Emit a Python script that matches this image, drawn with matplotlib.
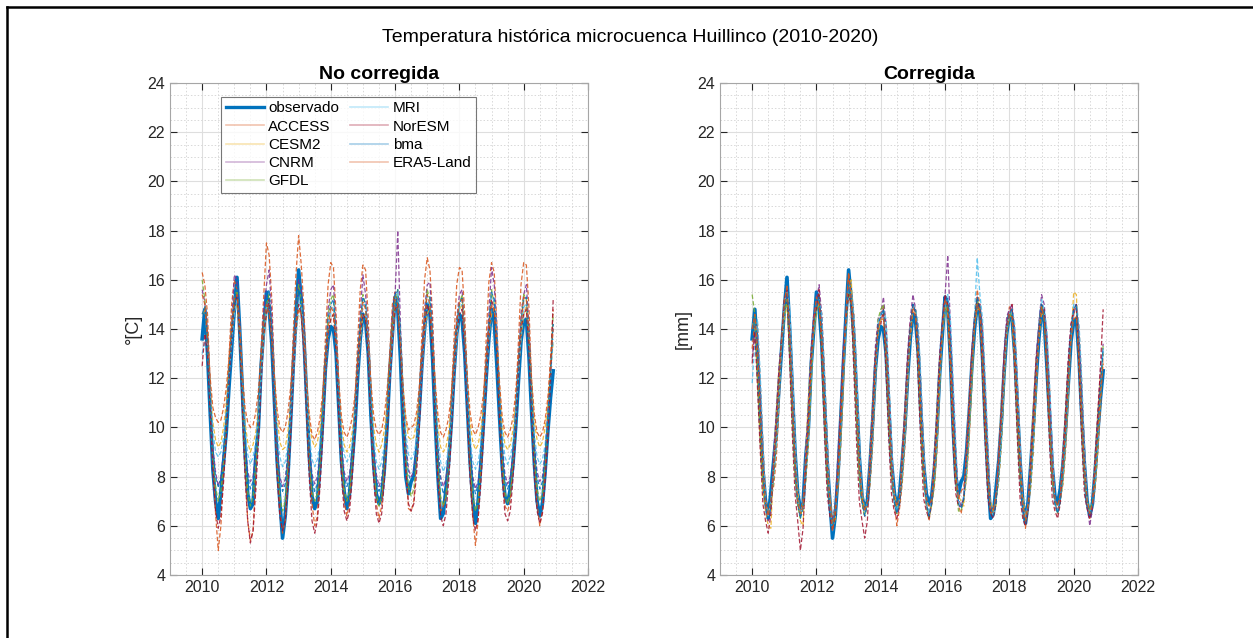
import matplotlib
matplotlib.use('Agg')
import matplotlib.pyplot as plt
from matplotlib.lines import Line2D
from matplotlib.ticker import MultipleLocator
import numpy as np

plt.rcParams['font.family'] = ['Liberation Sans', 'DejaVu Sans']

years = list(range(2010, 2021))

# observed monthly temperature (Jan..Dec, one row per year)
observado = [
    [13.6, 14.8, 13.0, 10.6, 8.3, 7.0, 6.3, 7.4, 8.6, 9.8, 11.6, 13.2],
    [14.8, 16.1, 14.0, 11.5, 9.0, 7.3, 6.7, 6.9, 8.8, 10.0, 12.5, 14.0],
    [15.5, 14.8, 13.4, 11.0, 8.6, 7.0, 5.5, 6.4, 8.0, 10.2, 12.5, 14.5],
    [16.4, 15.2, 13.6, 11.2, 8.8, 7.2, 6.7, 7.0, 8.5, 10.3, 12.4, 13.6],
    [14.1, 14.0, 13.0, 10.8, 8.6, 7.4, 6.7, 7.3, 8.6, 10.0, 12.0, 13.6],
    [14.6, 14.3, 13.0, 10.5, 8.5, 7.3, 6.9, 7.2, 8.3, 10.0, 12.2, 13.8],
    [15.3, 14.8, 12.8, 10.0, 8.0, 7.3, 7.8, 8.0, 9.0, 10.6, 12.5, 14.0],
    [15.0, 14.6, 12.8, 10.2, 8.0, 6.3, 6.5, 7.5, 8.6, 10.2, 12.2, 13.8],
    [14.6, 14.4, 13.0, 10.8, 8.6, 7.0, 6.1, 7.0, 8.5, 10.2, 12.0, 13.6],
    [14.8, 14.3, 12.5, 10.4, 8.4, 7.2, 6.9, 7.5, 8.5, 10.0, 11.8, 13.5],
    [14.3, 14.4, 12.8, 10.5, 8.5, 7.0, 6.4, 6.9, 8.2, 9.8, 11.2, 12.3],
]

# ---- raw model output ----
access_raw = [
    [16.3, 15.8, 14.6, 11.8, 8.9, 6.5, 5.0, 6.0, 8.2, 10.4, 12.8, 15.0],
    [16.0, 15.6, 14.2, 11.5, 8.6, 6.2, 5.4, 5.8, 8.0, 10.6, 13.2, 15.4],
    [17.5, 17.0, 15.2, 12.0, 9.0, 6.6, 5.7, 6.2, 8.4, 11.0, 13.8, 16.2],
    [17.8, 16.6, 14.8, 11.8, 8.8, 6.9, 6.0, 6.4, 8.6, 11.2, 13.6, 15.8],
    [16.7, 16.5, 14.6, 11.6, 8.9, 7.0, 6.4, 6.9, 8.8, 11.0, 13.4, 15.6],
    [16.6, 16.4, 14.4, 11.4, 8.8, 6.9, 6.3, 6.8, 8.6, 10.8, 13.0, 15.0],
    [15.5, 15.2, 13.8, 11.0, 8.6, 6.7, 6.6, 7.0, 8.8, 11.2, 13.8, 16.0],
    [16.9, 16.4, 14.5, 11.4, 8.6, 6.6, 6.8, 7.2, 9.0, 11.2, 13.6, 15.8],
    [16.5, 16.4, 14.6, 11.6, 8.5, 6.4, 5.2, 6.2, 8.4, 11.0, 13.6, 15.9],
    [16.7, 16.3, 14.2, 11.2, 8.6, 6.8, 6.6, 7.0, 8.7, 11.0, 13.4, 15.8],
    [16.7, 16.6, 14.8, 11.6, 8.8, 6.9, 6.0, 6.6, 8.4, 10.6, 12.8, 14.8],
]
cesm2_raw = [
    [14.6, 14.8, 13.6, 11.6, 10.2, 9.5, 9.2, 9.4, 10.0, 11.0, 12.4, 13.8],
    [14.8, 15.0, 13.8, 11.8, 10.2, 9.4, 9.0, 9.3, 9.8, 10.8, 12.2, 13.6],
    [14.6, 15.2, 14.0, 12.0, 10.4, 9.4, 9.1, 9.2, 9.8, 10.9, 12.4, 13.8],
    [14.7, 15.0, 13.8, 11.8, 10.2, 9.5, 9.2, 9.4, 10.0, 11.0, 12.4, 13.8],
    [14.4, 14.6, 13.4, 11.6, 10.1, 9.3, 9.0, 9.2, 9.8, 10.8, 12.2, 13.6],
    [14.5, 14.6, 13.5, 11.6, 10.0, 9.3, 9.0, 9.3, 9.9, 10.9, 12.3, 13.7],
    [14.8, 15.0, 13.6, 11.7, 10.3, 9.6, 9.5, 9.6, 10.2, 11.1, 12.5, 13.9],
    [14.6, 14.9, 13.6, 11.6, 10.0, 9.2, 9.0, 9.2, 9.8, 10.8, 12.2, 13.6],
    [14.8, 15.0, 13.7, 11.8, 10.2, 9.4, 9.1, 9.3, 9.9, 10.9, 12.3, 13.7],
    [14.6, 14.8, 13.5, 11.6, 10.1, 9.3, 9.1, 9.3, 9.9, 10.9, 12.2, 13.6],
    [14.6, 14.9, 13.6, 11.7, 10.2, 9.5, 9.2, 9.4, 10.0, 10.9, 12.2, 13.5],
]
cnrm_raw = [
    [15.6, 15.1, 13.6, 11.2, 9.2, 8.2, 7.6, 8.0, 9.0, 10.4, 12.2, 14.2],
    [16.2, 16.0, 14.2, 11.6, 9.4, 8.2, 7.8, 8.0, 9.0, 10.4, 12.6, 14.8],
    [15.8, 16.4, 14.6, 11.8, 9.4, 8.0, 7.6, 7.9, 8.9, 10.6, 12.8, 14.6],
    [16.0, 15.6, 14.0, 11.4, 9.2, 8.1, 7.7, 8.0, 9.0, 10.6, 12.8, 14.8],
    [15.6, 15.8, 14.0, 11.4, 9.3, 8.2, 7.8, 8.1, 9.1, 10.6, 12.6, 14.6],
    [16.2, 15.4, 13.8, 11.2, 9.2, 8.1, 7.6, 7.9, 8.9, 10.5, 12.6, 14.6],
    [15.4, 18.0, 14.2, 11.4, 9.4, 8.3, 8.0, 8.2, 9.2, 10.8, 12.8, 14.8],
    [15.8, 15.9, 14.0, 11.4, 9.2, 8.0, 7.6, 7.9, 8.9, 10.5, 12.6, 14.4],
    [15.4, 15.6, 13.9, 11.3, 9.2, 8.0, 7.5, 7.8, 8.8, 10.5, 12.5, 14.6],
    [16.5, 15.8, 14.0, 11.4, 9.3, 8.1, 7.7, 8.0, 9.0, 10.6, 12.6, 14.6],
    [15.4, 15.8, 14.0, 11.4, 9.3, 8.2, 7.8, 8.0, 9.0, 10.5, 12.4, 14.2],
]
gfdl_raw = [
    [16.0, 15.2, 13.4, 11.0, 8.8, 7.6, 7.0, 7.4, 8.6, 10.2, 12.2, 14.0],
    [15.2, 15.6, 13.8, 11.2, 8.8, 7.4, 6.8, 7.2, 8.5, 10.2, 12.4, 14.2],
    [15.0, 15.4, 13.6, 11.0, 8.6, 7.2, 6.6, 7.0, 8.4, 10.2, 12.4, 14.4],
    [15.8, 15.2, 13.4, 10.8, 8.6, 7.4, 7.0, 7.3, 8.6, 10.4, 12.6, 14.6],
    [15.2, 15.4, 13.6, 11.0, 8.8, 7.5, 7.0, 7.4, 8.7, 10.4, 12.4, 14.2],
    [15.4, 15.0, 13.2, 10.8, 8.6, 7.3, 6.8, 7.2, 8.5, 10.2, 12.4, 14.2],
    [15.2, 15.6, 13.6, 11.0, 8.8, 7.6, 7.2, 7.5, 8.8, 10.5, 12.6, 14.4],
    [15.6, 15.2, 13.4, 10.8, 8.6, 7.2, 6.8, 7.2, 8.5, 10.2, 12.4, 14.2],
    [15.0, 15.4, 13.6, 11.0, 8.6, 7.2, 6.6, 7.0, 8.4, 10.2, 12.2, 14.0],
    [15.6, 15.0, 13.2, 10.8, 8.6, 7.4, 6.9, 7.3, 8.6, 10.3, 12.3, 14.2],
    [15.4, 15.2, 13.4, 11.0, 8.8, 7.5, 7.0, 7.3, 8.6, 10.2, 12.2, 14.6],
]
mri_raw = [
    [13.0, 13.5, 13.4, 11.6, 9.9, 9.0, 8.8, 9.0, 9.6, 10.6, 12.0, 13.4],
    [14.6, 15.2, 14.0, 11.8, 9.9, 8.9, 8.5, 8.8, 9.4, 10.5, 12.0, 13.6],
    [14.9, 15.1, 13.8, 11.6, 9.8, 8.8, 8.4, 8.6, 9.3, 10.4, 12.0, 13.6],
    [15.0, 15.0, 13.6, 11.5, 9.7, 8.7, 8.4, 8.7, 9.3, 10.5, 12.1, 13.7],
    [14.8, 14.9, 13.6, 11.5, 9.8, 8.9, 8.6, 8.8, 9.4, 10.6, 12.1, 13.7],
    [15.0, 15.0, 13.6, 11.4, 9.6, 8.6, 8.3, 8.6, 9.3, 10.5, 12.0, 13.6],
    [15.2, 15.4, 13.8, 11.6, 9.8, 8.9, 8.7, 8.9, 9.5, 10.6, 12.2, 13.8],
    [15.0, 15.2, 13.8, 11.6, 9.7, 8.6, 8.2, 8.5, 9.2, 10.4, 12.0, 13.6],
    [14.8, 15.0, 13.6, 11.4, 9.6, 8.6, 8.3, 8.6, 9.3, 10.5, 12.0, 13.6],
    [15.0, 15.2, 13.8, 11.6, 9.8, 8.8, 8.5, 8.8, 9.4, 10.6, 12.1, 13.7],
    [14.9, 15.0, 13.7, 11.5, 9.7, 8.8, 8.5, 8.7, 9.3, 10.5, 12.0, 13.6],
]
noresm_raw = [
    [12.5, 13.8, 13.0, 10.6, 8.2, 6.6, 5.9, 6.4, 7.8, 9.6, 11.8, 13.6],
    [15.0, 15.4, 13.6, 10.8, 8.0, 6.2, 5.3, 5.8, 7.4, 9.4, 11.8, 13.8],
    [14.6, 15.2, 13.4, 10.6, 8.0, 6.4, 5.8, 6.2, 7.6, 9.6, 12.0, 14.0],
    [15.0, 14.6, 13.0, 10.4, 7.9, 6.2, 5.7, 6.2, 7.6, 9.6, 12.0, 13.8],
    [14.4, 14.6, 13.0, 10.4, 8.0, 6.6, 6.2, 6.6, 7.9, 9.8, 12.0, 13.8],
    [14.6, 14.4, 12.8, 10.2, 7.9, 6.5, 6.1, 6.5, 7.8, 9.6, 11.8, 13.6],
    [14.8, 15.0, 13.2, 10.5, 8.2, 6.9, 6.6, 6.9, 8.1, 9.9, 12.2, 14.0],
    [15.0, 14.6, 12.8, 10.2, 7.8, 6.4, 6.0, 6.5, 7.8, 9.7, 11.9, 13.8],
    [14.6, 14.8, 13.0, 10.4, 7.9, 6.3, 5.8, 6.3, 7.7, 9.6, 11.8, 13.7],
    [15.2, 14.8, 12.9, 10.3, 7.9, 6.5, 6.2, 6.6, 7.9, 9.8, 12.0, 14.0],
    [14.6, 14.8, 13.0, 10.4, 8.0, 6.6, 6.1, 6.5, 7.8, 9.6, 11.8, 15.2],
]
bma_raw = [
    [14.6, 14.9, 13.6, 11.3, 9.2, 8.0, 7.6, 7.9, 9.0, 10.4, 12.2, 14.0],
    [15.1, 15.6, 14.0, 11.5, 9.3, 8.0, 7.5, 7.8, 8.9, 10.4, 12.4, 14.2],
    [15.3, 15.6, 14.0, 11.4, 9.2, 7.9, 7.4, 7.7, 8.9, 10.5, 12.6, 14.4],
    [15.6, 15.3, 13.8, 11.3, 9.1, 7.9, 7.4, 7.7, 8.9, 10.5, 12.6, 14.4],
    [15.0, 15.2, 13.7, 11.3, 9.2, 8.0, 7.6, 7.9, 9.0, 10.5, 12.5, 14.3],
    [15.3, 15.0, 13.5, 11.1, 9.0, 7.9, 7.4, 7.7, 8.9, 10.4, 12.4, 14.2],
    [15.4, 15.6, 13.8, 11.3, 9.2, 8.1, 7.8, 8.0, 9.1, 10.6, 12.7, 14.5],
    [15.4, 15.3, 13.7, 11.2, 9.0, 7.8, 7.3, 7.6, 8.8, 10.4, 12.4, 14.2],
    [15.0, 15.3, 13.7, 11.3, 9.1, 7.8, 7.3, 7.7, 8.8, 10.4, 12.4, 14.2],
    [15.5, 15.2, 13.6, 11.2, 9.1, 7.9, 7.5, 7.8, 8.9, 10.5, 12.5, 14.3],
    [15.2, 15.3, 13.8, 11.3, 9.1, 8.0, 7.5, 7.8, 8.9, 10.4, 12.3, 14.2],
]
era5_raw = [
    [15.4, 15.0, 13.8, 12.0, 10.8, 10.4, 10.2, 10.3, 10.8, 11.6, 12.8, 14.2],
    [15.2, 15.4, 14.2, 12.2, 10.8, 10.2, 10.0, 10.1, 10.6, 11.5, 12.9, 14.4],
    [15.0, 14.6, 13.6, 12.0, 10.7, 10.0, 9.8, 10.0, 10.6, 11.6, 13.0, 14.3],
    [14.8, 14.6, 13.5, 11.8, 10.5, 9.7, 9.5, 9.8, 10.4, 11.4, 12.8, 14.0],
    [14.9, 14.7, 13.6, 11.9, 10.4, 9.8, 9.6, 9.9, 10.4, 11.3, 12.6, 14.0],
    [15.1, 14.8, 13.5, 11.8, 10.5, 9.9, 9.7, 9.9, 10.5, 11.5, 12.8, 14.2],
    [15.2, 15.0, 13.4, 11.6, 10.4, 9.9, 10.0, 10.1, 10.6, 11.6, 13.0, 14.5],
    [15.4, 15.0, 13.6, 11.8, 10.5, 9.8, 9.6, 9.9, 10.4, 11.4, 12.8, 14.3],
    [15.1, 15.2, 13.8, 12.0, 10.6, 9.9, 9.7, 10.0, 10.5, 11.4, 12.7, 14.2],
    [15.0, 14.8, 13.4, 11.8, 10.4, 9.8, 9.6, 9.9, 10.4, 11.4, 12.8, 14.1],
    [15.3, 15.2, 13.8, 11.9, 10.5, 9.8, 9.6, 9.8, 10.3, 11.2, 12.6, 14.0],
]

# ---- bias-corrected model output ----
access_cor = [
    [13.2, 14.4, 14.2, 11.9, 9.4, 7.2, 6.5, 7.1, 7.6, 8.7, 10.8, 13.4],
    [15.2, 15.6, 14.4, 12.2, 9.5, 7.0, 6.6, 7.1, 7.9, 9.3, 11.8, 14.4],
    [15.0, 15.3, 14.6, 12.3, 9.6, 7.2, 6.2, 6.8, 7.5, 9.1, 11.5, 14.6],
    [16.2, 15.4, 14.6, 12.0, 9.4, 7.0, 6.4, 6.9, 7.7, 9.3, 11.8, 14.0],
    [14.6, 14.9, 14.2, 11.9, 9.3, 7.0, 6.0, 6.7, 7.7, 9.2, 11.5, 14.0],
    [15.0, 14.8, 14.0, 11.7, 9.2, 6.9, 6.2, 6.9, 7.6, 9.1, 11.6, 14.2],
    [15.2, 15.0, 13.8, 11.4, 9.0, 6.8, 6.5, 7.2, 7.9, 9.5, 11.8, 14.3],
    [15.6, 15.0, 14.0, 11.6, 9.0, 6.8, 6.6, 7.2, 7.8, 9.3, 11.6, 14.0],
    [14.9, 14.8, 14.0, 11.8, 9.2, 6.8, 5.9, 6.8, 7.6, 9.2, 11.4, 13.9],
    [14.9, 14.6, 13.7, 11.6, 9.1, 6.8, 6.5, 7.1, 7.7, 9.1, 11.2, 13.8],
    [14.6, 14.9, 14.0, 11.8, 9.2, 6.9, 6.3, 6.9, 7.5, 9.0, 10.8, 13.0],
]
cesm2_cor = [
    [14.2, 14.2, 12.0, 9.4, 7.4, 6.6, 6.0, 5.9, 8.6, 10.6, 12.4, 13.4],
    [14.4, 15.0, 13.6, 10.8, 8.4, 7.5, 6.2, 6.0, 9.0, 11.2, 13.0, 13.8],
    [14.8, 15.0, 13.6, 10.6, 8.2, 7.2, 6.0, 6.2, 8.6, 10.8, 12.8, 14.0],
    [15.6, 16.0, 13.4, 10.6, 8.2, 7.4, 6.6, 6.8, 9.0, 11.0, 13.0, 13.8],
    [14.4, 14.6, 12.8, 10.2, 8.0, 7.4, 6.8, 6.9, 9.0, 10.8, 12.6, 13.6],
    [14.8, 14.8, 12.8, 10.0, 8.0, 7.2, 6.6, 6.8, 8.8, 10.8, 12.8, 13.8],
    [15.0, 14.6, 12.6, 9.8, 7.8, 7.2, 7.0, 6.8, 9.2, 11.2, 13.0, 14.2],
    [14.8, 14.8, 12.6, 9.8, 7.8, 7.0, 6.6, 6.8, 9.0, 11.0, 12.8, 13.8],
    [14.6, 14.4, 12.6, 10.0, 8.0, 7.2, 6.4, 6.6, 9.0, 11.0, 12.8, 13.6],
    [14.6, 14.6, 12.4, 9.8, 7.8, 7.0, 6.6, 7.0, 9.0, 10.8, 12.6, 13.6],
    [15.5, 15.4, 12.8, 10.0, 8.0, 7.0, 6.6, 6.8, 8.8, 10.6, 12.2, 12.6],
]
cnrm_cor = [
    [12.8, 13.8, 13.7, 11.4, 8.8, 6.8, 6.2, 6.9, 8.9, 10.5, 12.4, 13.6],
    [15.0, 15.4, 14.1, 11.6, 9.0, 6.9, 6.4, 6.9, 9.1, 10.8, 13.2, 14.6],
    [15.2, 15.8, 14.5, 11.8, 9.0, 6.8, 6.2, 6.8, 8.8, 10.8, 13.2, 14.6],
    [15.8, 15.2, 14.1, 11.6, 9.0, 7.0, 6.4, 6.9, 9.0, 10.9, 13.3, 14.4],
    [14.6, 15.3, 14.1, 11.6, 9.0, 7.0, 6.5, 7.0, 9.0, 10.8, 13.0, 14.4],
    [15.4, 14.8, 13.7, 11.4, 8.9, 6.9, 6.4, 7.0, 8.9, 10.7, 13.0, 14.3],
    [15.4, 17.0, 14.1, 11.5, 9.0, 7.1, 6.8, 7.2, 9.2, 11.0, 13.2, 14.5],
    [14.8, 15.0, 13.9, 11.4, 8.8, 6.8, 6.4, 7.0, 8.9, 10.7, 13.0, 14.5],
    [14.8, 15.0, 13.9, 11.5, 8.9, 6.8, 6.3, 6.9, 8.9, 10.7, 12.9, 14.2],
    [15.4, 15.0, 13.7, 11.4, 8.9, 6.9, 6.6, 7.1, 9.0, 10.7, 12.8, 14.2],
    [14.6, 15.0, 13.7, 11.4, 8.9, 6.9, 6.0, 6.7, 8.8, 10.6, 12.4, 13.4],
]
gfdl_cor = [
    [15.4, 14.6, 12.4, 10.0, 7.8, 6.9, 6.4, 7.0, 7.8, 9.3, 11.2, 13.6],
    [14.6, 15.2, 12.9, 10.3, 8.0, 6.8, 6.3, 6.9, 7.8, 9.4, 11.7, 14.0],
    [14.6, 15.4, 13.1, 10.3, 7.9, 6.8, 6.0, 6.7, 7.6, 9.4, 11.8, 14.4],
    [15.5, 15.0, 12.9, 10.2, 7.9, 6.9, 6.4, 6.9, 7.8, 9.6, 12.0, 14.4],
    [14.8, 15.0, 12.9, 10.3, 8.0, 7.0, 6.5, 7.0, 7.9, 9.6, 11.7, 14.0],
    [15.0, 14.7, 12.5, 10.0, 7.9, 6.8, 6.3, 6.9, 7.7, 9.4, 11.7, 14.0],
    [14.6, 15.0, 12.7, 10.1, 7.9, 6.6, 6.6, 7.1, 8.0, 9.7, 11.8, 14.2],
    [15.2, 14.8, 12.6, 10.0, 7.8, 6.7, 6.4, 7.0, 7.8, 9.4, 11.6, 14.0],
    [14.4, 14.8, 12.7, 10.2, 7.9, 6.8, 6.2, 6.8, 7.7, 9.4, 11.6, 14.0],
    [15.0, 14.6, 12.4, 10.0, 7.9, 7.0, 6.5, 7.0, 7.8, 9.4, 11.4, 14.0],
    [14.8, 14.8, 12.5, 10.2, 8.0, 7.0, 6.6, 7.0, 7.7, 9.3, 11.2, 13.4],
]
mri_cor = [
    [11.8, 13.4, 14.4, 12.2, 9.5, 7.0, 6.4, 7.0, 8.0, 9.3, 11.2, 13.4],
    [15.0, 15.6, 14.8, 12.4, 9.7, 7.0, 6.5, 6.9, 8.0, 9.5, 12.0, 14.2],
    [15.0, 15.2, 14.6, 12.2, 9.5, 6.9, 5.8, 6.6, 7.8, 9.5, 12.0, 14.4],
    [15.8, 15.4, 14.6, 12.2, 9.5, 7.0, 6.5, 7.0, 8.0, 9.7, 12.0, 14.2],
    [14.6, 14.8, 14.4, 12.1, 9.5, 7.0, 6.6, 7.1, 8.1, 9.6, 11.8, 14.0],
    [15.0, 14.8, 14.2, 11.9, 9.3, 7.0, 6.5, 7.0, 8.0, 9.5, 11.8, 14.0],
    [14.9, 15.4, 14.4, 12.0, 9.4, 7.0, 6.8, 7.2, 8.2, 9.9, 12.2, 14.6],
    [16.9, 15.4, 14.4, 12.0, 9.3, 6.7, 6.4, 7.0, 8.0, 9.5, 11.8, 14.0],
    [14.6, 14.8, 14.2, 12.0, 9.3, 6.8, 6.3, 6.9, 7.9, 9.5, 11.8, 14.0],
    [15.2, 14.8, 14.0, 11.8, 9.3, 6.9, 6.6, 7.1, 8.0, 9.5, 11.6, 13.9],
    [15.0, 15.0, 14.2, 12.0, 9.3, 6.9, 6.5, 6.9, 7.8, 9.4, 11.4, 13.2],
]
noresm_cor = [
    [12.6, 13.9, 11.6, 9.1, 6.9, 6.2, 5.7, 6.5, 8.4, 10.1, 12.1, 13.6],
    [15.2, 15.6, 12.6, 9.7, 7.3, 6.2, 5.0, 5.9, 8.2, 10.3, 12.7, 14.4],
    [14.8, 15.6, 12.8, 9.7, 7.3, 6.4, 5.8, 6.4, 8.4, 10.5, 12.9, 14.4],
    [15.4, 15.0, 12.2, 9.3, 7.0, 6.2, 5.5, 6.2, 8.3, 10.4, 12.9, 14.2],
    [14.2, 14.8, 12.2, 9.5, 7.3, 6.6, 6.3, 6.8, 8.6, 10.5, 12.8, 14.2],
    [15.0, 14.6, 11.9, 9.2, 7.1, 6.6, 6.3, 6.9, 8.6, 10.5, 12.8, 14.2],
    [15.4, 15.0, 12.2, 9.4, 7.3, 6.8, 6.8, 7.1, 9.0, 10.9, 13.1, 14.4],
    [15.3, 14.8, 12.0, 9.3, 7.1, 6.5, 6.3, 6.9, 8.7, 10.6, 12.9, 14.2],
    [14.6, 15.0, 12.2, 9.5, 7.1, 6.3, 6.0, 6.6, 8.5, 10.5, 12.7, 14.0],
    [15.0, 14.8, 12.0, 9.3, 7.1, 6.6, 6.3, 6.9, 8.7, 10.6, 12.7, 14.2],
    [14.8, 15.0, 12.2, 9.5, 7.3, 6.7, 6.3, 6.8, 8.6, 10.4, 12.5, 14.8],
]
bma_cor = [
    [13.8, 14.4, 13.0, 10.6, 8.4, 6.9, 6.3, 6.9, 8.3, 9.8, 11.7, 13.5],
    [14.9, 15.5, 13.8, 11.1, 8.6, 6.9, 6.3, 6.7, 8.4, 10.0, 12.4, 14.2],
    [15.0, 15.3, 13.8, 11.1, 8.6, 6.9, 5.9, 6.6, 8.1, 10.0, 12.4, 14.5],
    [15.8, 15.3, 13.6, 11.0, 8.6, 7.0, 6.4, 6.9, 8.4, 10.2, 12.5, 14.2],
    [14.5, 14.8, 13.4, 10.9, 8.6, 7.0, 6.5, 6.9, 8.4, 10.1, 12.2, 14.0],
    [15.0, 14.7, 13.2, 10.7, 8.4, 6.9, 6.4, 6.9, 8.3, 10.0, 12.3, 14.0],
    [15.1, 15.3, 13.3, 10.6, 8.4, 6.9, 6.7, 7.1, 8.6, 10.4, 12.5, 14.4],
    [15.3, 14.9, 13.2, 10.6, 8.3, 6.7, 6.4, 6.9, 8.4, 10.1, 12.3, 14.0],
    [14.6, 14.8, 13.2, 10.8, 8.4, 6.7, 6.1, 6.8, 8.3, 10.0, 12.1, 13.9],
    [15.0, 14.7, 13.0, 10.6, 8.4, 6.9, 6.5, 7.0, 8.4, 10.0, 12.0, 13.9],
    [14.8, 15.0, 13.2, 10.7, 8.4, 6.9, 6.4, 6.8, 8.2, 9.9, 11.7, 13.2],
]
era5_cor = [
    [14.0, 14.6, 13.2, 10.8, 8.5, 6.9, 6.4, 7.0, 8.3, 9.8, 11.7, 13.6],
    [15.0, 15.8, 13.9, 11.1, 8.7, 7.0, 6.5, 6.8, 8.5, 10.1, 12.5, 14.3],
    [15.3, 15.0, 13.6, 11.0, 8.6, 7.0, 5.8, 6.5, 8.1, 10.1, 12.5, 14.6],
    [16.3, 15.2, 13.6, 11.0, 8.6, 7.1, 6.6, 7.0, 8.5, 10.3, 12.5, 14.0],
    [14.4, 14.4, 13.2, 10.8, 8.6, 7.2, 6.8, 7.2, 8.6, 10.1, 12.1, 13.8],
    [14.8, 14.5, 13.0, 10.6, 8.5, 7.1, 6.8, 7.1, 8.4, 10.0, 12.2, 14.0],
    [15.2, 14.9, 12.9, 10.2, 8.1, 7.1, 7.4, 7.6, 8.8, 10.5, 12.5, 14.1],
    [15.0, 14.7, 12.9, 10.3, 8.1, 6.5, 6.6, 7.3, 8.6, 10.2, 12.2, 13.9],
    [14.6, 14.5, 13.0, 10.8, 8.6, 6.9, 6.2, 6.9, 8.4, 10.1, 12.0, 13.7],
    [14.9, 14.4, 12.6, 10.4, 8.4, 7.1, 6.8, 7.3, 8.5, 10.0, 11.9, 13.6],
    [14.4, 14.5, 12.9, 10.6, 8.5, 7.0, 6.5, 6.9, 8.2, 9.8, 11.4, 12.6],
]

model_names = ['ACCESS', 'CESM2', 'CNRM', 'GFDL', 'MRI', 'NorESM', 'bma', 'ERA5-Land']
model_colors = ['#D95319', '#EDB120', '#7E2F8E', '#77AC30', '#4DBEEE', '#A2142F', '#0072BD', '#D95319']
raw_series = [access_raw, cesm2_raw, cnrm_raw, gfdl_raw, mri_raw, noresm_raw, bma_raw, era5_raw]
cor_series = [access_cor, cesm2_cor, cnrm_cor, gfdl_cor, mri_cor, noresm_cor, bma_cor, era5_cor]

# monthly time axis as decimal years
t = np.array([y + m / 12.0 for y in years for m in range(12)])


def draw_panel(ax, series, title, ylabel):
    # observed first so the model traces sit on top of it
    ax.plot(t, np.ravel(observado), color='#0072BD', lw=2.6, zorder=2)
    for vals, c in zip(series, model_colors):
        ax.plot(t, np.ravel(vals), color=c, lw=0.9, ls=(0, (3.5, 1.8)), alpha=0.85, zorder=3)
    ax.set_xlim(2009, 2022)
    ax.set_ylim(4, 24)
    ax.xaxis.set_minor_locator(MultipleLocator(0.5))
    ax.yaxis.set_major_locator(MultipleLocator(2))
    ax.yaxis.set_minor_locator(MultipleLocator(0.5))
    ax.set_xticks(range(2010, 2023, 2))
    ax.grid(which='major', color='#dedede', lw=0.8)
    ax.grid(which='minor', color='#d8d8d8', lw=0.7, ls=(0, (1.5, 2)))
    ax.set_axisbelow(True)
    ax.tick_params(which='major', direction='in', length=5, top=True, right=True,
                   labelsize=11.5, colors='#262626', width=0.8)
    ax.tick_params(which='minor', length=0)
    for s in ax.spines.values():
        s.set_color('#a6a6a6')
        s.set_linewidth(0.8)
    ax.set_title(title, fontsize=14, fontweight='bold', color='#000000', pad=3)
    ax.set_ylabel(ylabel, fontsize=13, color='#262626', labelpad=4)


fig = plt.figure(figsize=(12.53, 6.38), dpi=100)
ax1 = fig.add_axes([170 / 1253, 1 - 575 / 638, 418 / 1253, 492 / 638])
ax2 = fig.add_axes([720 / 1253, 1 - 575 / 638, 418 / 1253, 492 / 638])

draw_panel(ax1, raw_series, 'No corregida', '°[C]')
draw_panel(ax2, cor_series, 'Corregida', '[mm]')

fig.text(0.503, 1 - 38 / 638, 'Temperatura histórica microcuenca Huillinco (2010-2020)',
         ha='center', va='center', fontsize=14, color='#000000')

# legend with solid, faded swatches for the models
handles = [Line2D([], [], color='#0072BD', lw=2.4)]
for c in model_colors:
    handles.append(Line2D([], [], color=c, lw=1.2, alpha=0.35))
labels = ['observado'] + model_names
leg = ax1.legend(handles, labels, ncol=2, loc='upper left', bbox_to_anchor=(0.122, 0.972),
                 fontsize=11, frameon=True, fancybox=False, edgecolor='#555555',
                 handlelength=2.5, handletextpad=0.3, labelspacing=0.28,
                 columnspacing=0.7, borderpad=0.3, borderaxespad=0)
leg.get_frame().set_linewidth(0.8)
leg.set_zorder(10)

# outer frame on the left and top edges
fig.add_artist(Line2D([7 / 1253, 7 / 1253], [0, 1 - 7 / 638], transform=fig.transFigure,
                      color='black', lw=1.8))
fig.add_artist(Line2D([7 / 1253, 1], [1 - 7 / 638, 1 - 7 / 638], transform=fig.transFigure,
                      color='black', lw=1.8))

plt.savefig('out.png', dpi=100)
